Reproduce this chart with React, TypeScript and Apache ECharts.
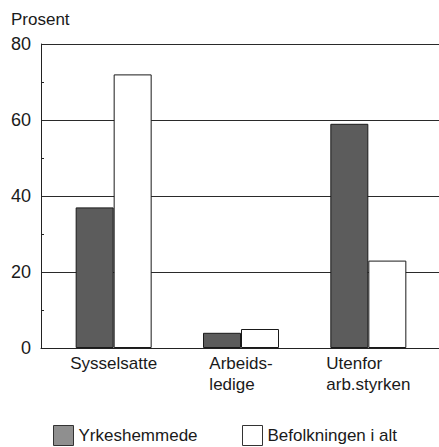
import React, { useEffect, useRef } from "react";
import * as echarts from "echarts";

const categories = ["Sysselsatte", "Arbeids-\nledige", "Utenfor\narb.styrken"];
const seriesNames = ["Yrkeshemmede", "Befolkningen i alt"];
const yrkeshemmede = [37, 4, 59];
const befolkningen = [72, 5, 23];
const yTicks = [0, 20, 40, 60, 80];

const FONT = "'Liberation Sans', Arial, sans-serif";
const TXT = "#1a1a1a";

export default function App() {
  const ref = useRef<HTMLDivElement>(null);
  useEffect(() => {
    if (!ref.current) return;
    const chart = echarts.init(ref.current, null, { renderer: "svg" });
    const top = 44;
    const bottom = 99;
    const yMin = yTicks[0];
    const yMax = yTicks[yTicks.length - 1];
    const legendBase = {
      top: 420,
      itemWidth: 20,
      itemHeight: 20,
      icon: "rect",
      selectedMode: false,
      textStyle: { fontFamily: FONT, fontSize: 17, color: TXT },
    };
    chart.setOption({
      animation: false,
      backgroundColor: "#ffffff",
      textStyle: { fontFamily: FONT },
      title: {
        text: "Prosent",
        left: 11,
        top: 11,
        padding: 0,
        textStyle: { fontFamily: FONT, fontSize: 17, fontWeight: "normal", color: TXT },
      },
      legend: [
        {
          ...legendBase,
          left: 48,
          data: [
            {
              name: seriesNames[0],
              itemStyle: { color: "#8f8f8f", borderColor: "#333", borderWidth: 1 },
            },
          ],
        },
        {
          ...legendBase,
          left: 237,
          data: [
            {
              name: seriesNames[1],
              itemStyle: { color: "#ffffff", borderColor: "#333", borderWidth: 1 },
            },
          ],
        },
      ],
      grid: [
        { left: 41, right: 0, top, bottom },
        { left: 50, right: 7, top, bottom },
      ],
      xAxis: [
        {
          gridIndex: 0,
          type: "value",
          min: 0,
          max: 1,
          axisLine: { show: true, onZero: false, lineStyle: { color: "#222", width: 1 } },
          axisTick: { show: false },
          axisLabel: { show: false },
          splitLine: { show: false },
        },
        {
          gridIndex: 1,
          type: "category",
          data: categories,
          axisLine: { show: false },
          axisTick: { show: false },
          axisLabel: {
            interval: 0,
            margin: 5,
            fontFamily: FONT,
            fontSize: 17,
            color: TXT,
            lineHeight: 21,
            formatter: (v: string) =>
              v
                .split("\n")
                .map((l) => `{a|${l}}`)
                .join("\n"),
            rich: { a: { align: "left", fontFamily: FONT, fontSize: 17, lineHeight: 21, color: TXT } },
          },
          splitLine: { show: false },
        },
      ],
      yAxis: [
        {
          gridIndex: 0,
          type: "value",
          min: yMin,
          max: yMax,
          interval: 20,
          axisLine: { show: true, lineStyle: { color: "#222", width: 1 } },
          axisTick: { show: false, inside: true },
          minorTick: { show: true, splitNumber: 2, length: 3, lineStyle: { color: "#222" } },
          axisLabel: { margin: 10, fontFamily: FONT, fontSize: 18, color: TXT },
          splitLine: { show: true, lineStyle: { color: "#2a2a2a", width: 1 } },
        },
        {
          gridIndex: 1,
          type: "value",
          min: yMin,
          max: yMax,
          interval: 20,
          show: false,
          splitLine: { show: false },
        },
      ],
      series: [
        {
          name: seriesNames[0],
          type: "bar",
          xAxisIndex: 1,
          yAxisIndex: 1,
          data: yrkeshemmede,
          barWidth: 38,
          barGap: "0%",
          itemStyle: { color: "#5c5c5c", borderColor: "#1a1a1a", borderWidth: 1 },
        },
        {
          name: seriesNames[1],
          type: "bar",
          xAxisIndex: 1,
          yAxisIndex: 1,
          data: befolkningen,
          barWidth: 38,
          barGap: "0%",
          itemStyle: { color: "#ffffff", borderColor: "#1a1a1a", borderWidth: 1 },
        },
      ],
    });
    return () => chart.dispose();
  }, []);
  return (
    <div
      ref={ref}
      style={{ position: "fixed", left: 0, top: 0, width: 439, height: 447 }}
    />
  );
}
